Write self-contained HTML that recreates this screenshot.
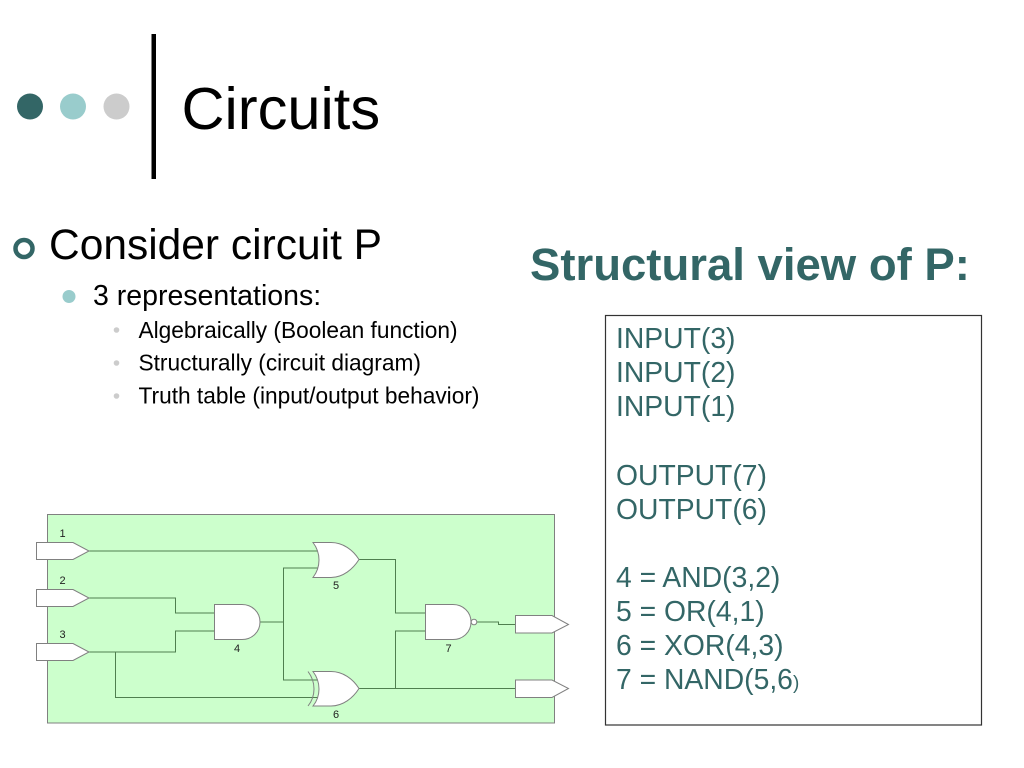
<!DOCTYPE html>
<html><head><meta charset="utf-8"><title>Circuits</title>
<style>html,body{margin:0;padding:0;background:#fff}svg{display:block}text{font-family:"Liberation Sans",sans-serif}</style>
</head><body>
<svg xmlns="http://www.w3.org/2000/svg" width="1024" height="768" viewBox="0 0 1024 768">
<rect width="1024" height="768" fill="#fff"/>
<circle cx="30" cy="106.500" r="13" fill="#336666"/>
<circle cx="73" cy="106.500" r="13" fill="#99cccc"/>
<circle cx="116.500" cy="106.500" r="13" fill="#cccccc"/>
<rect x="151.500" y="34" width="4.500" height="145" fill="#000"/>
<text x="181.500" y="129" font-size="59.600">Circuits</text>

<circle cx="24" cy="248.500" r="8.500" fill="none" stroke="#336666" stroke-width="4.500"/>
<text x="49" y="259" font-size="42.500">Consider circuit P</text>
<circle cx="69" cy="296.500" r="6.500" fill="#99cccc"/>
<text x="93" y="305" font-size="28.500">3 representations:</text>
<circle cx="116.500" cy="330" r="2.800" fill="#cccccc"/>
<circle cx="116.500" cy="363" r="2.800" fill="#cccccc"/>
<circle cx="116.500" cy="396" r="2.800" fill="#cccccc"/>
<text x="138.500" y="338" font-size="22.700">Algebraically (Boolean function)</text>
<text x="138.500" y="370.500" font-size="22.700">Structurally (circuit diagram)</text>
<text x="138.500" y="403.500" font-size="22.700">Truth table (input/output behavior)</text>

<text x="530" y="280" font-size="45.500" font-weight="bold" fill="#336666">Structural view of P:</text>

<rect x="605.500" y="315.500" width="376" height="409.500" fill="#fff" stroke="#333" stroke-width="1.200"/>
<g font-size="28.300" fill="#336666">
<text x="616" y="348">INPUT(3)</text>
<text x="616" y="382">INPUT(2)</text>
<text x="616" y="416">INPUT(1)</text>
<text x="616" y="485">OUTPUT(7)</text>
<text x="616" y="519">OUTPUT(6)</text>
<text x="616" y="587">4 = AND(3,2)</text>
<text x="616" y="621">5 = OR(4,1)</text>
<text x="616" y="655">6 = XOR(4,3)</text>
<text x="616" y="689">7 = NAND(5,6<tspan font-size="19">)</tspan></text>
</g>

<rect x="47.500" y="514.500" width="507" height="208.500" fill="#ccffcc" stroke="#808080" stroke-width="1"/>
<g fill="none" stroke="#4f7f4f" stroke-width="1">
<path d="M89 551H318"/>
<path d="M89 598H175.500V613H214"/>
<path d="M89 652H175.500V631H214"/>
<path d="M115.500 652V697.500H318"/>
<path d="M260 622H283.500"/>
<path d="M318 568H283.500V680H318"/>
<path d="M359 559.500H395.500V613H425"/>
<path d="M359 688.500H515.500"/>
<path d="M395.500 688.500V631H425"/>
<path d="M477 622H498.500V624.500H515.500"/>
</g>
<g fill="#fff" stroke="#808080" stroke-width="1">
<path d="M36.500 542.500H73L89 551L73 559.500H36.500Z"/>
<path d="M36.500 589.500H73L89 598L73 606.500H36.500Z"/>
<path d="M36.500 643.500H73L89 652L73 660.500H36.500Z"/>
<path d="M515.500 615.500H552L568.500 624.500L552 633H515.500Z"/>
<path d="M515.500 680H552L568.500 688.500L552 697.500H515.500Z"/>
<path d="M214.500 604.500H242C252 604.500 260 612 260 622C260 632 252 639.500 242 639.500H214.500Z"/>
<path d="M425.500 604.500H453C463 604.500 471 612 471 622C471 632 463 639.500 453 639.500H425.500Z"/>
<circle cx="474" cy="622" r="2.800"/>
<path d="M313 542.500H331C343 542.500 353 550 359 559.500C353 569 343 577.500 331 577.500H313C321 567 321 553 313 542.500Z"/>
<path d="M313 671.500H331C343 671.500 353 679 359 688.500C353 698 343 706 331 706H313C321 696 321 682 313 671.500Z"/>
<path fill="none" d="M308 671.500C316 682 316 696 308 706"/>
</g>
<g font-size="11" fill="#222" text-anchor="middle">
<text x="62.500" y="537">1</text>
<text x="62.500" y="584">2</text>
<text x="62.500" y="638">3</text>
<text x="237" y="652">4</text>
<text x="336" y="589">5</text>
<text x="336" y="718">6</text>
<text x="448.500" y="652">7</text>
</g>
</svg>
</body></html>
